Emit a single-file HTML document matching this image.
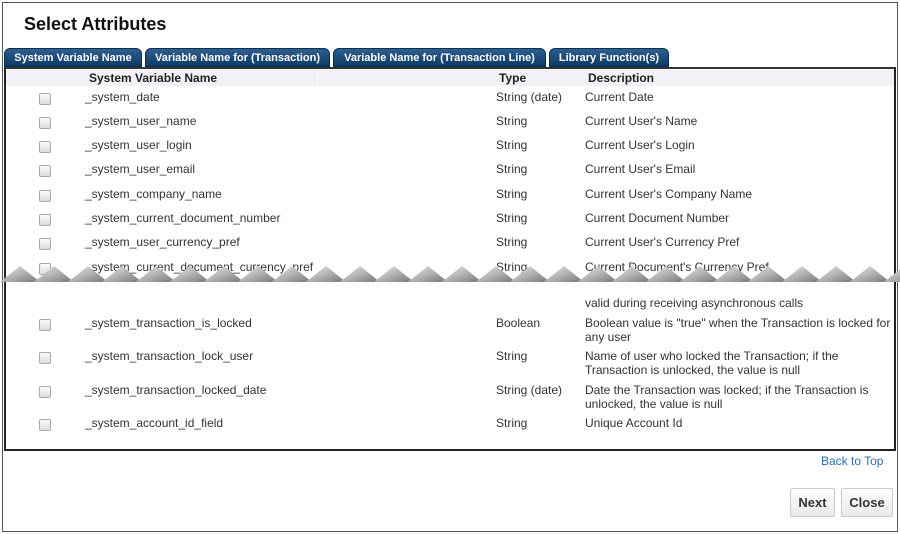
<!DOCTYPE html>
<html><head><meta charset="utf-8"><style>
*{margin:0;padding:0;box-sizing:border-box}
body{width:900px;height:534px;background:#fff;font-family:"Liberation Sans",Arial,sans-serif;position:relative;overflow:hidden;color:#333}
.a{position:absolute;white-space:nowrap}
.outer{position:absolute;left:2px;top:2px;width:896px;height:530px;border:1px solid #555}
.title{left:24px;top:14px;font-size:18px;font-weight:bold;color:#111}
.tab{position:absolute;top:48px;height:19px;border-radius:6px 6px 0 0;background:linear-gradient(#2e5f8e,#0c3a66);color:#fff;font-size:11px;font-weight:bold;text-align:center;line-height:18px;border:1px solid #0a2f55}
.box{position:absolute;left:4px;top:67px;width:892px;height:384px;border:2px solid #222;border-top:2px solid #333}
.hdr{position:absolute;left:6px;top:70px;width:888px;height:16px;background:#f0f2f5}
.h{font-size:12px;font-weight:bold;color:#222;top:71px}
.t{font-size:12px;color:#333}
.cb{position:absolute;left:39px;width:12px;height:12px;border:1px solid #aaa;border-radius:2px;background:linear-gradient(#fafafa,#ddd)}
.btn{position:absolute;top:488px;height:29px;border:1px solid #ccc;border-radius:2px;background:linear-gradient(#fdfdfd,#e8eaed);font-size:13px;font-weight:bold;color:#333;text-align:center;line-height:27px}
</style></head><body>
<div class="outer"></div>
<div class="a title">Select Attributes</div>
<div class="tab" style="left:4px;width:138px">System Variable Name</div>
<div class="tab" style="left:145px;width:185px">Variable Name for (Transaction)</div>
<div class="tab" style="left:333px;width:213px">Variable Name for (Transaction Line)</div>
<div class="tab" style="left:549px;width:120px">Library Function(s)</div>
<div class="box"></div>
<div class="hdr"></div>
<div style="position:absolute;left:317px;top:70px;width:1px;height:16px;background:#fff"></div>
<div class="a h" style="left:89px">System Variable Name</div>
<div class="a h" style="left:499px">Type</div>
<div class="a h" style="left:588px">Description</div>

<div class="cb" style="top:93px"></div><div class="a t" style="left:85px;top:90px">_system_date</div><div class="a t" style="left:496px;top:90px">String (date)</div><div class="a t" style="left:585px;top:90px">Current Date</div>
<div class="cb" style="top:117px"></div><div class="a t" style="left:85px;top:114px">_system_user_name</div><div class="a t" style="left:496px;top:114px">String</div><div class="a t" style="left:585px;top:114px">Current User's Name</div>
<div class="cb" style="top:141px"></div><div class="a t" style="left:85px;top:138px">_system_user_login</div><div class="a t" style="left:496px;top:138px">String</div><div class="a t" style="left:585px;top:138px">Current User's Login</div>
<div class="cb" style="top:165px"></div><div class="a t" style="left:85px;top:162px">_system_user_email</div><div class="a t" style="left:496px;top:162px">String</div><div class="a t" style="left:585px;top:162px">Current User's Email</div>
<div class="cb" style="top:190px"></div><div class="a t" style="left:85px;top:187px">_system_company_name</div><div class="a t" style="left:496px;top:187px">String</div><div class="a t" style="left:585px;top:187px">Current User's Company Name</div>
<div class="cb" style="top:214px"></div><div class="a t" style="left:85px;top:211px">_system_current_document_number</div><div class="a t" style="left:496px;top:211px">String</div><div class="a t" style="left:585px;top:211px">Current Document Number</div>
<div class="cb" style="top:238px"></div><div class="a t" style="left:85px;top:235px">_system_user_currency_pref</div><div class="a t" style="left:496px;top:235px">String</div><div class="a t" style="left:585px;top:235px">Current User's Currency Pref</div>
<div class="cb" style="top:263px"></div><div class="a t" style="left:85px;top:260px">_system_current_document_currency_pref</div><div class="a t" style="left:496px;top:260px">String</div><div class="a t" style="left:585px;top:260px">Current Document's Currency Pref</div>

<svg style="position:absolute;left:0;top:262px" width="900" height="26">
<defs><linearGradient id="g" x1="0" y1="0" x2="1" y2="1"><stop offset="0" stop-color="#eee"/><stop offset="1" stop-color="#777"/></linearGradient></defs>
<rect x="6" y="14" width="888" height="12" fill="#fff"/>
<g fill="url(#g)">
<polygon points="0,20 20,4 40,20"/><polygon points="34,20 54,4 74,20"/><polygon points="68,20 88,4 108,20"/><polygon points="102,20 122,4 142,20"/><polygon points="136,20 156,4 176,20"/><polygon points="170,20 190,4 210,20"/><polygon points="204,20 224,4 244,20"/><polygon points="238,20 258,4 278,20"/><polygon points="272,20 292,4 312,20"/><polygon points="306,20 326,4 346,20"/><polygon points="340,20 360,4 380,20"/><polygon points="374,20 394,4 414,20"/><polygon points="408,20 428,4 448,20"/><polygon points="442,20 462,4 482,20"/><polygon points="476,20 496,4 516,20"/><polygon points="510,20 530,4 550,20"/><polygon points="544,20 564,4 584,20"/><polygon points="578,20 598,4 618,20"/><polygon points="612,20 632,4 652,20"/><polygon points="646,20 666,4 686,20"/><polygon points="680,20 700,4 720,20"/><polygon points="714,20 734,4 754,20"/><polygon points="748,20 768,4 788,20"/><polygon points="782,20 802,4 822,20"/><polygon points="816,20 836,4 856,20"/><polygon points="850,20 870,4 890,20"/><polygon points="884,20 904,4 924,20"/>
</g>
<rect x="6" y="20" width="888" height="6" fill="#fff"/>
</svg>

<div class="a t" style="left:585px;top:296px">valid during receiving asynchronous calls</div>
<div class="cb" style="top:319px"></div><div class="a t" style="left:85px;top:316px">_system_transaction_is_locked</div><div class="a t" style="left:496px;top:316px">Boolean</div><div class="a t" style="left:585px;top:316px;line-height:14px">Boolean value is "true" when the Transaction is locked for<br>any user</div>
<div class="cb" style="top:352px"></div><div class="a t" style="left:85px;top:349px">_system_transaction_lock_user</div><div class="a t" style="left:496px;top:349px">String</div><div class="a t" style="left:585px;top:349px;line-height:14px">Name of user who locked the Transaction; if the<br>Transaction is unlocked, the value is null</div>
<div class="cb" style="top:386px"></div><div class="a t" style="left:85px;top:383px">_system_transaction_locked_date</div><div class="a t" style="left:496px;top:383px">String (date)</div><div class="a t" style="left:585px;top:383px;line-height:14px">Date the Transaction was locked; if the Transaction is<br>unlocked, the value is null</div>
<div class="cb" style="top:419px"></div><div class="a t" style="left:85px;top:416px">_system_account_id_field</div><div class="a t" style="left:496px;top:416px">String</div><div class="a t" style="left:585px;top:416px">Unique Account Id</div>

<div class="a" style="left:821px;top:454px;font-size:12px;color:#2a6fb0">Back to Top</div>
<div class="btn" style="left:790px;width:45px">Next</div>
<div class="btn" style="left:841px;width:52px">Close</div>
</body></html>
